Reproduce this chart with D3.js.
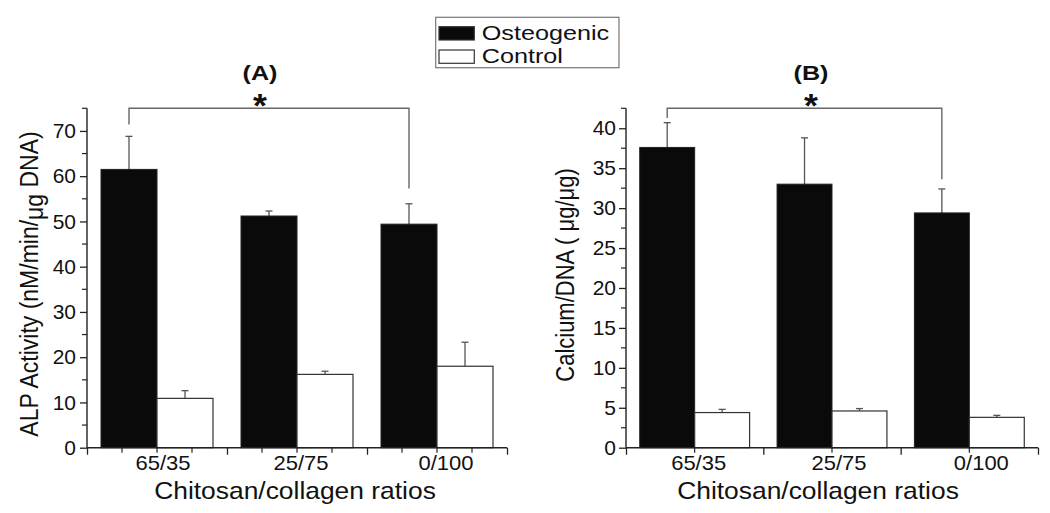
<!DOCTYPE html>
<html>
<head>
<meta charset="utf-8">
<script src="https://cdn.jsdelivr.net/npm/d3@7"></script>
<style>
  html, body { margin: 0; padding: 0; background: #fff; }
  text { font-family: "Liberation Sans", Arial, Helvetica, sans-serif; fill: #111; }
</style>
</head>
<body>
<svg id="chart" width="1050" height="513"></svg>
<script>
// ---------- DATA ----------
const categories = ["65/35", "25/75", "0/100"];
const seriesNames = ["Osteogenic", "Control"];

const alpOsteo = [61.5, 51.2, 49.4];
const alpOsteoErr = [7.3, 1.1, 4.5];
const alpControl = [10.9, 16.2, 18.0];
const alpControlErr = [1.7, 0.7, 5.3];

const caOsteo = [37.6, 33.0, 29.4];
const caOsteoErr = [3.1, 5.8, 3.0];
const caControl = [4.4, 4.6, 3.8];
const caControlErr = [0.4, 0.3, 0.25];

const alpTicks = [0, 10, 20, 30, 40, 50, 60, 70];
const caTicks = [0, 5, 10, 15, 20, 25, 30, 35, 40];

// significance brackets: [from category, to category, top value, left end value, right end value]
const alpBracket = [1, 3, 75, 71.4, 57.3];
const caBracket = [1, 3, 42.5, 41.3, 33.6];

// ---------- DRAWING ----------
const svg = d3.select("#chart");

function stretchText(parent, x, y, str, opts) {
  const g = parent.append("g")
    .attr("transform", `translate(${x},${y}) scale(${opts.sx || 1},1)` + (opts.rot ? ` rotate(${opts.rot})` : ""));
  const t = g.append("text")
    .attr("x", 0).attr("y", 0)
    .attr("text-anchor", opts.anchor || "middle")
    .attr("font-size", opts.size)
    .attr("font-weight", opts.weight || "normal");
  if (opts.dy) t.attr("dy", opts.dy);
  return t;
}

function panel(cfg) {
  const x = d3.scaleLinear().domain([0.5, 3.5]).range(cfg.xr);
  const y = d3.scaleLinear().domain([0, cfg.ymax]).range([447.7, 108.3]);
  const g = svg.append("g");
  const barW = 0.4;

  const rows = categories.map((c, i) => ({
    i, o: cfg.osteo[i], oe: cfg.osteoErr[i], c: cfg.control[i], ce: cfg.controlErr[i]
  }));

  const errs = [];
  rows.forEach(r => {
    errs.push({ cx: r.i + 1 - barW / 2, v: r.o, e: r.oe });
    errs.push({ cx: r.i + 1 + barW / 2, v: r.c, e: r.ce });
  });
  g.selectAll(".err").data(errs).enter().append("line")
    .attr("x1", d => x(d.cx)).attr("x2", d => x(d.cx))
    .attr("y1", d => y(d.v)).attr("y2", d => y(d.v + d.e))
    .attr("stroke", "#555").attr("stroke-width", 1.3);
  g.selectAll(".cap").data(errs).enter().append("line")
    .attr("x1", d => x(d.cx) - 3.5).attr("x2", d => x(d.cx) + 3.5)
    .attr("y1", d => y(d.v + d.e)).attr("y2", d => y(d.v + d.e))
    .attr("stroke", "#555").attr("stroke-width", 1.3);

  g.selectAll(".bo").data(rows).enter().append("rect")
    .attr("x", d => x(d.i + 1 - barW)).attr("width", d => x(d.i + 1) - x(d.i + 1 - barW))
    .attr("y", d => y(d.o)).attr("height", d => y(0) - y(d.o))
    .attr("fill", "#0a0a0a").attr("stroke", "#222").attr("stroke-width", 1);
  g.selectAll(".bc").data(rows).enter().append("rect")
    .attr("x", d => x(d.i + 1)).attr("width", d => x(d.i + 1 + barW) - x(d.i + 1))
    .attr("y", d => y(d.c)).attr("height", d => y(0) - y(d.c))
    .attr("fill", "#fff").attr("stroke", "#333").attr("stroke-width", 1.2);

  // y axis
  const majors = cfg.ticks;
  const step = majors[1] - majors[0];
  const minors = d3.range(step / 2, cfg.ymax + 0.001, step);
  const yAxis = d3.axisLeft(y).tickValues(majors).tickSize(7).tickFormat("");
  const ya = g.append("g").attr("transform", `translate(${cfg.xr[0]},0)`).call(yAxis);
  ya.select(".domain").attr("stroke", "#222").attr("stroke-width", 1.4).attr("d", `M-0,${y(0)}V${y(cfg.ymax)}`);
  ya.selectAll(".tick line").attr("stroke", "#222").attr("stroke-width", 1.3);
  g.selectAll(".ymin").data(minors).enter().append("line")
    .attr("x1", cfg.xr[0] - 5).attr("x2", cfg.xr[0])
    .attr("y1", d => y(d)).attr("y2", d => y(d))
    .attr("stroke", "#222").attr("stroke-width", 1.2);
  majors.forEach(v => {
    stretchText(g, cfg.xr[0] - cfg.labGap, y(v), String(v), { size: 20, anchor: "end", dy: "0.36em", sx: 1.05 }).text(v);
  });

  // x axis
  const xMajor = [0.5, 1.5, 2.5, 3.5];
  const xa = g.append("g").attr("transform", `translate(0,${y(0)})`)
    .call(d3.axisBottom(x).tickValues(xMajor).tickSize(7).tickFormat(""));
  xa.select(".domain").attr("stroke", "#222").attr("stroke-width", 1.4).attr("d", `M${cfg.xr[0]},0H${cfg.xr[1]}`);
  xa.selectAll(".tick line").attr("stroke", "#222").attr("stroke-width", 1.3);
  g.selectAll(".xmin").data(cfg.xMinor).enter().append("line")
    .attr("x1", d => x(d)).attr("x2", d => x(d))
    .attr("y1", y(0)).attr("y2", y(0) + 5)
    .attr("stroke", "#222").attr("stroke-width", 1.2);
  categories.forEach((c, i) => {
    stretchText(g, x(i + 1) + cfg.catDx[i], 470, c, { size: 20, sx: 1.1 }).text(c);
  });

  stretchText(g, cfg.xTitleX, 499, "", { size: 24, sx: 1.1 }).text("Chitosan/collagen ratios");

  const yt = stretchText(g, cfg.yTitleX, cfg.yTitleY, "", { size: cfg.yTitleSize, sx: 1.15, rot: -90 });
  cfg.yTitle.forEach(part => {
    const ts = yt.append("tspan").text(part.t);
    if (part.dy) ts.attr("dy", part.dy);
  });

  stretchText(g, cfg.titleX, 80, "", { size: 21, weight: "bold", sx: 1.2 }).text(cfg.title);

  const b = cfg.bracket;
  g.append("path")
    .attr("d", `M${x(b[0] - barW / 2)},${y(b[3])}V${y(b[2])}H${x(b[1] - barW / 2)}V${y(b[4])}`)
    .attr("fill", "none").attr("stroke", "#666").attr("stroke-width", 1.4);
  stretchText(g, x(cfg.starX), 117, "", { size: 34, weight: "bold", sx: 1.05 }).text("*");
}

panel({
  xr: [87, 507], ymax: 75, ticks: alpTicks,
  osteo: alpOsteo, osteoErr: alpOsteoErr, control: alpControl, controlErr: alpControlErr,
  xMinor: [0.75, 1, 1.25, 1.75, 2, 2.25, 2.75, 3, 3.25],
  catDx: [6, 4, 9], labGap: 11, xTitleX: 295,
  yTitleX: 38, yTitleY: 284, yTitleSize: 23,
  yTitle: [{ t: "ALP Activity (nM/min/" }, { t: "μg", dy: "0.18em" }, { t: " DNA)", dy: "-0.18em" }],
  title: "(A)", titleX: 260, bracket: alpBracket, starX: 1.736
});

panel({
  xr: [626, 1038], ymax: 42.5, ticks: caTicks,
  osteo: caOsteo, osteoErr: caOsteoErr, control: caControl, controlErr: caControlErr,
  xMinor: [1, 2, 3],
  catDx: [4, 7, 12], labGap: 10, xTitleX: 818,
  yTitleX: 574, yTitleY: 275, yTitleSize: 22,
  yTitle: [{ t: "Calcium/DNA ( μg/μg)" }],
  title: "(B)", titleX: 811, bracket: caBracket, starX: 1.847
});

// legend
const lg = svg.append("g");
lg.append("rect").attr("x", 435.7).attr("y", 17.3).attr("width", 183.3).attr("height", 50.4)
  .attr("fill", "#fff").attr("stroke", "#777").attr("stroke-width", 1.2);
const legendRows = seriesNames.map((n, i) => ({ n, i }));
lg.selectAll(".sw").data(legendRows).enter().append("rect")
  .attr("x", 439).attr("y", d => 26.7 + d.i * 23.3).attr("width", 35.3).attr("height", 13.3)
  .attr("fill", d => d.i === 0 ? "#0a0a0a" : "#fff").attr("stroke", "#333").attr("stroke-width", 1.2);
legendRows.forEach(d => {
  stretchText(lg, 481.7, 40 + d.i * 23.3, "", { size: 21, anchor: "start", sx: 1.2 }).text(d.n);
});
</script>
</body>
</html>
